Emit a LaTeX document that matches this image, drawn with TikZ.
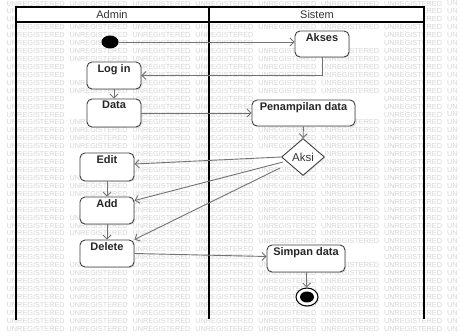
\documentclass[tikz,border=0pt]{standalone}
\usepackage{fontspec}
\setmainfont{Liberation Sans}
\usetikzlibrary{arrows.meta,shapes.geometric,shadows}
\newif\ifwmshow
\tikzset{
  wm/.style={anchor=west,inner sep=0pt,text=black!16,font=\fontsize{7.3}{8}\selectfont},
  lane/.style={draw=black,line width=1.9pt},
  hline/.style={draw=black,line width=1.3pt},
  head/.style={font=\fontsize{11}{13}\selectfont,text=black!80},
  actbox/.style={draw=black!75,fill=white,rounded corners=5pt,line width=0.9pt,
    drop shadow={opacity=0.2,shadow xshift=1.2pt,shadow yshift=-1.2pt}},
  boxtext/.style={anchor=north,inner sep=2.5pt,font=\bfseries\fontsize{11}{13}\selectfont,text=black!85},
  flow/.style={draw=black!55,line width=0.9pt,-{Straight Barb[length=4pt,width=8pt]}},
  decis/.style={diamond,draw=black!75,fill=white,line width=0.9pt,inner sep=0pt,
    minimum width=43pt,minimum height=37pt,font=\fontsize{11.5}{13}\selectfont,text=black!80,
    drop shadow={opacity=0.15,shadow xshift=1.2pt,shadow yshift=-1.2pt}},
}
\begin{document}
\begin{tikzpicture}[x=1pt,y=-1pt]
\useasboundingbox (0,0) rectangle (460,336);
\fill[white] (0,0) rectangle (460,336);
% watermark (words that would lie under a label are left out)
\foreach \r in {0,...,41}{
  \foreach \c in {0,...,7}{
    \pgfmathsetmacro\wx{6.5+62.9*\c}
    \pgfmathsetmacro\wy{3.5+7.93*\r}
    \global\wmshowtrue
    \foreach \ax/\ay/\bx/\by in {305/33/339/45, 97/64/131/76, 100/101/128/113,
        257/102/350/114, 292/151/314/163, 96/155/118/167, 96/199/118/211,
        88/242/126/254, 271/247/341/259, 95/9/129/21, 299/9/335/21}{
      \pgfmathtruncatemacro\hit{and(and(\wx<\bx,\wx+58>\ax),and(\wy-4<\by,\wy+4>\ay))}
      \ifnum\hit=1 \global\wmshowfalse\fi
    }
    \ifwmshow
      \ifnum\c=7
        \node[wm] (wm-\r-\c) at (\wx,\wy) {UN};
      \else
        \node[wm] (wm-\r-\c) at (\wx,\wy) {UNREGISTERED};
      \fi
    \fi
  }
}
% swimlanes
\fill[white] (16,7) rectangle (424,22);
\draw[hline] (16,7) -- (424,7);
\draw[hline] (16,22) -- (424,22);
\draw[lane] (16,6.4) -- (16,320);
\draw[lane] (209,6.4) -- (209,319);
\draw[lane] (424,6.4) -- (424,319);
\node[head] (hA) at (112,15) {Admin};
\node[head] (hS) at (317,15) {Sistem};
% nodes
\node[ellipse,fill=black,minimum width=17pt,minimum height=13pt,inner sep=0pt] (init) at (110,42) {};
\node[actbox,minimum width=54pt,minimum height=26pt,label={[boxtext]north:Akses}] (akses) at (322,44) {};
\node[actbox,minimum width=54pt,minimum height=27pt,label={[boxtext]north:Log in}] (login) at (114,75.5) {};
\node[actbox,minimum width=54pt,minimum height=28pt,label={[boxtext]north:Data}] (data) at (114,113) {};
\node[actbox,minimum width=103pt,minimum height=26pt,label={[boxtext]north:Penampilan data}] (pen) at (303.5,113) {};
\node[decis] (aksi) at (303,157) {Aksi};
\node[actbox,minimum width=54pt,minimum height=28pt,label={[boxtext]north:Edit}] (edit) at (107,167) {};
\node[actbox,minimum width=54pt,minimum height=27pt,label={[boxtext]north:Add}] (add) at (107,210.5) {};
\node[actbox,minimum width=54pt,minimum height=27pt,label={[boxtext]north:Delete}] (del) at (107,253.5) {};
\node[actbox,minimum width=78pt,minimum height=27pt,label={[boxtext]north:Simpan data}] (simpan) at (306,258.5) {};
\node[ellipse,draw=black,line width=1pt,fill=white,minimum width=22pt,minimum height=18pt,inner sep=0pt,
  drop shadow={opacity=0.2,shadow xshift=1.2pt,shadow yshift=-1.2pt}] (final) at (307,297) {};
\node[ellipse,fill=black,minimum width=14pt,minimum height=11pt,inner sep=0pt] (finalin) at (307,297) {};
% connectors
\draw[flow] (init) -- (init -| akses.west);
\draw[flow] (akses.south) |- (login.east);
\draw[flow] (login) -- (data);
\draw[flow] (data) -- (pen);
\draw[flow] (pen) -- (aksi);
\draw[flow] (aksi.west) -- ([yshift=3pt]edit.east);
\draw[flow] ([shift={(2,5)}]aksi.west) -- ([yshift=-4pt]add.north east);
\draw[flow] ([shift={(-1,11)}]aksi.west) -- (del.north east);
\draw[flow] (edit) -- (add);
\draw[flow] (add) -- (del);
\draw[flow] (del.east) -- ([yshift=2pt]simpan.west);
\draw[flow] (simpan) -- (final);
\end{tikzpicture}
\end{document}
